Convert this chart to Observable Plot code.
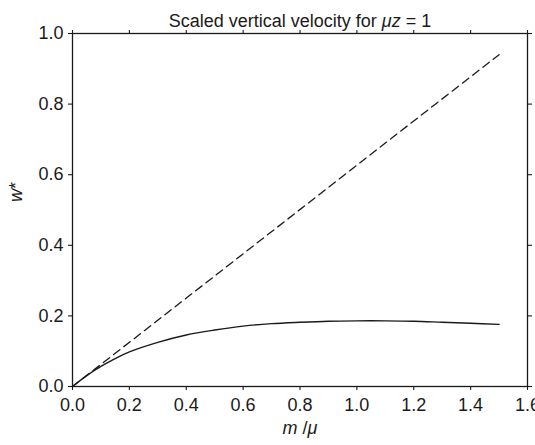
<!DOCTYPE html>
<html>
<head>
<meta charset="utf-8">
<script src="https://cdn.jsdelivr.net/npm/d3@7"></script>
<script src="https://cdn.jsdelivr.net/npm/@observablehq/plot@0.6"></script>
<style>
  body { margin: 0; background: #fff; }
  svg { display: block; }
</style>
</head>
<body>
<div id="chart"></div>
<script>
// Solid curve: scaled vertical velocity w* vs m/μ (for μz = 1)
const mRatio = [0, 0.05, 0.1, 0.15, 0.2, 0.3, 0.4, 0.5, 0.6, 0.7, 0.8, 0.9, 1.0, 1.1, 1.2, 1.3, 1.4, 1.5];
const wStar  = [0, 0.031, 0.057, 0.079, 0.098, 0.125, 0.146, 0.160, 0.171, 0.178, 0.182, 0.185, 0.186, 0.186, 0.185, 0.182, 0.179, 0.176];
// Dashed reference line
const linearM = [0, 0.5, 1.0, 1.5];
const linearW = [0, 0.313, 0.627, 0.94];
// Ticks
const xTicks = [0, 0.2, 0.4, 0.6, 0.8, 1.0, 1.2, 1.4, 1.6];
const yTicks = [0, 0.2, 0.4, 0.6, 0.8, 1.0];
// Texts: [text, italic]
const titleParts  = [["Scaled vertical velocity for ", false], ["μz", true], [" = 1", false]];
const xLabelParts = [["m", true], [" /", false], ["μ", true]];
const yLabelParts = [["w", true], ["*", false]];

const joinParts = parts => parts.map(p => p[0]).join("");
const curveData = mRatio.map((m, i) => ({m, w: wStar[i]}));
const lineData = linearM.map((m, i) => ({m, w: linearW[i]}));
const fmt = d3.format(".1f");
const ink = "#1a1a1a";
const FS = 18;

const plot = Plot.plot({
  width: 535,
  height: 445,
  marginTop: 33,
  marginRight: 8,
  marginBottom: 59,
  marginLeft: 72,
  style: {fontFamily: "'Liberation Sans', Arial, Helvetica, sans-serif", fontSize: FS + "px", color: ink, background: "#fff"},
  x: {domain: [0, 1.6]},
  y: {domain: [0, 1.0]},
  marks: [
    Plot.axisX({anchor: "bottom", ticks: xTicks, tickFormat: fmt, tickSize: 4, tickPadding: 8, label: null, stroke: ink, fill: ink, strokeWidth: 1.1, fontSize: FS}),
    Plot.axisX({anchor: "top", ticks: xTicks, tickFormat: () => "", tickSize: 4, label: null, stroke: ink, strokeWidth: 1.1}),
    Plot.axisY({anchor: "left", ticks: yTicks, tickFormat: fmt, tickSize: 4, tickPadding: 5, label: null, stroke: ink, fill: ink, strokeWidth: 1.1, fontSize: FS}),
    Plot.axisY({anchor: "right", ticks: yTicks, tickFormat: () => "", tickSize: 4, label: null, stroke: ink, strokeWidth: 1.1}),
    Plot.frame({stroke: ink, strokeWidth: 1.3}),
    Plot.line(lineData, {x: "m", y: "w", stroke: ink, strokeWidth: 1.3, strokeDasharray: "8,5"}),
    Plot.line(curveData, {x: "m", y: "w", stroke: ink, strokeWidth: 1.4, curve: "catmull-rom"}),
    Plot.text([joinParts(titleParts)], {text: d => d, frameAnchor: "top", dy: -19.5, fontSize: FS, fill: ink}),
    Plot.text([joinParts(xLabelParts)], {text: d => d, frameAnchor: "bottom", dy: 47, fontSize: FS, fill: ink}),
    Plot.text([joinParts(yLabelParts)], {text: d => d, frameAnchor: "left", dx: -55.8, dy: -8, rotate: -90, fontSize: FS, fill: ink})
  ]
});

// Apply italics to parts of the labels
const svgSel = d3.select(plot);
[titleParts, xLabelParts, yLabelParts].forEach(parts => {
  const full = joinParts(parts);
  svgSel.selectAll("text").filter(function() { return this.textContent === full; }).each(function() {
    const t = d3.select(this);
    t.text(null);
    parts.forEach(([s, it]) => {
      t.append("tspan").attr("font-style", it ? "italic" : "normal").text(s);
    });
  });
});

document.getElementById("chart").appendChild(plot);
</script>
</body>
</html>
